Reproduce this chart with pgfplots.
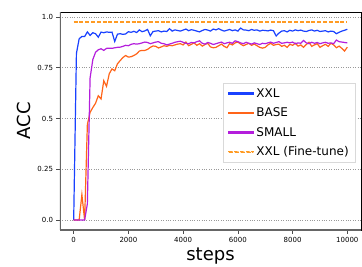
\documentclass[border=0pt]{standalone}
\usepackage{pgfplots}
\pgfplotsset{compat=1.18}
\usepackage{pgfplotstable}
\usepackage{fontspec}
\setmainfont{DejaVu Sans}
\definecolor{colxxl}{RGB}{25,65,255}
\definecolor{colbase}{RGB}{255,100,25}
\definecolor{colsmall}{RGB}{180,30,220}
\definecolor{colfinetune}{RGB}{255,155,35}

\pgfplotstableread{
x y
0 0
100 0.82
200 0.892
300 0.904
400 0.903
500 0.926
600 0.909
700 0.922
800 0.917
900 0.900
1000 0.925
1100 0.922
1200 0.926
1300 0.924
1400 0.925
1500 0.879
1600 0.915
1700 0.917
1800 0.914
1900 0.916
2000 0.927
2100 0.924
2200 0.929
2300 0.923
2400 0.936
2500 0.927
2600 0.931
2700 0.938
2800 0.907
2900 0.928
3000 0.930
3100 0.932
3200 0.926
3300 0.930
3400 0.928
3500 0.942
3600 0.930
3700 0.936
3800 0.933
3900 0.930
4000 0.935
4100 0.940
4200 0.932
4300 0.937
4400 0.934
4500 0.930
4600 0.926
4700 0.933
4800 0.938
4900 0.935
5000 0.930
5100 0.940
5200 0.936
5300 0.942
5400 0.935
5500 0.930
5600 0.934
5700 0.938
5800 0.932
5900 0.936
6000 0.930
6100 0.945
6200 0.936
6300 0.935
6400 0.932
6500 0.938
6600 0.934
6700 0.936
6800 0.930
6900 0.934
7000 0.933
7100 0.931
7200 0.935
7300 0.932
7400 0.906
7500 0.920
7600 0.930
7700 0.932
7800 0.926
7900 0.934
8000 0.930
8100 0.936
8200 0.932
8300 0.935
8400 0.930
8500 0.928
8600 0.933
8700 0.936
8800 0.930
8900 0.934
9000 0.928
9100 0.930
9200 0.932
9300 0.926
9400 0.930
9500 0.928
9600 0.917
9700 0.924
9800 0.930
9900 0.934
10000 0.939
}\tabxxl

\pgfplotstableread{
x y
0 0
100 0
200 0
300 0.125
400 0
500 0.47
600 0.53
700 0.554
800 0.575
900 0.612
1000 0.596
1100 0.686
1200 0.658
1300 0.720
1400 0.744
1500 0.735
1600 0.769
1700 0.785
1800 0.800
1900 0.810
2000 0.802
2100 0.804
2200 0.810
2300 0.818
2400 0.832
2500 0.835
2600 0.835
2700 0.840
2800 0.850
2900 0.857
3000 0.855
3100 0.847
3200 0.852
3300 0.858
3400 0.855
3500 0.860
3600 0.858
3700 0.862
3800 0.866
3900 0.868
4000 0.862
4100 0.876
4200 0.858
4300 0.865
4400 0.872
4500 0.860
4600 0.868
4700 0.856
4800 0.864
4900 0.870
5000 0.852
5100 0.848
5200 0.850
5300 0.858
5400 0.866
5500 0.855
5600 0.848
5700 0.868
5800 0.862
5900 0.872
6000 0.876
6100 0.866
6200 0.858
6300 0.864
6400 0.870
6500 0.860
6600 0.866
6700 0.858
6800 0.850
6900 0.846
7000 0.850
7100 0.862
7200 0.870
7300 0.860
7400 0.864
7500 0.866
7600 0.855
7700 0.860
7800 0.850
7900 0.865
8000 0.860
8100 0.870
8200 0.856
8300 0.862
8400 0.850
8500 0.864
8600 0.875
8700 0.855
8800 0.862
8900 0.868
9000 0.850
9100 0.858
9200 0.865
9300 0.855
9400 0.870
9500 0.862
9600 0.848
9700 0.856
9800 0.845
9900 0.832
10000 0.851
}\tabbase

\pgfplotstableread{
x y
0 0
100 0
200 0
300 0
400 0
500 0.08
600 0.70
700 0.79
800 0.826
900 0.838
1000 0.843
1100 0.835
1200 0.845
1300 0.846
1400 0.845
1500 0.848
1600 0.850
1700 0.851
1800 0.855
1900 0.860
2000 0.858
2100 0.865
2200 0.868
2300 0.866
2400 0.868
2500 0.872
2600 0.876
2700 0.874
2800 0.868
2900 0.872
3000 0.876
3100 0.878
3200 0.870
3300 0.868
3400 0.862
3500 0.866
3600 0.870
3700 0.875
3800 0.878
3900 0.880
4000 0.875
4100 0.870
4200 0.868
4300 0.874
4400 0.872
4500 0.878
4600 0.882
4700 0.870
4800 0.866
4900 0.874
5000 0.870
5100 0.864
5200 0.868
5300 0.872
5400 0.876
5500 0.868
5600 0.872
5700 0.875
5800 0.870
5900 0.882
6000 0.878
6100 0.872
6200 0.868
6300 0.875
6400 0.870
6500 0.866
6600 0.872
6700 0.868
6800 0.864
6900 0.870
7000 0.868
7100 0.872
7200 0.876
7300 0.870
7400 0.874
7500 0.878
7600 0.870
7700 0.872
7800 0.875
7900 0.872
8000 0.876
8100 0.868
8200 0.872
8300 0.870
8400 0.884
8500 0.872
8600 0.868
8700 0.875
8800 0.870
8900 0.874
9000 0.868
9100 0.872
9200 0.875
9300 0.870
9400 0.872
9500 0.868
9600 0.886
9700 0.878
9800 0.876
9900 0.874
10000 0.872
}\tabsmall

\pgfplotstableread{
x y
0 0.975
10000 0.975
}\tabft

\begin{document}
\begin{tikzpicture}
\begin{axis}[
  at={(0pt,0pt)}, anchor=south west,
  scale only axis,
  width=301pt, height=218pt,
  xmin=-500, xmax=10500,
  ymin=-0.049, ymax=1.024,
  scaled x ticks=false,
  xtick={0,2000,4000,6000,8000,10000},
  xticklabels={0,2000,4000,6000,8000,10000},
  ytick={0,0.25,0.5,0.75,1.0},
  yticklabels={0.0,0.25,0.5,0.75,1.0},
  tick label style={font=\fontsize{7}{8}\selectfont},
  tick align=outside,
  tick pos=left,
  major tick length=3.5pt,
  every tick/.style={black!70, line width=0.6pt},
  ymajorgrids,
  major grid style={dotted, gray!80, line width=0.7pt},
  axis line style={black, line width=0.8pt},
  every axis y label/.style={at={(axis description cs:-0.12,0.5)}, rotate=90, anchor=center, font=\fontsize{18}{20}\selectfont},
  every axis x label/.style={at={(axis description cs:0.5,0)}, anchor=base, yshift=-30pt, font=\fontsize{18}{20}\selectfont},
  xlabel={steps},
  ylabel={ACC},
  legend cell align=left,
  every axis legend/.append style={at={(axis description cs:0.983,0.673)}, anchor=north east,
    font=\fontsize{12}{14}\selectfont, draw=gray!30, fill=white,
    inner xsep=5pt, inner ysep=3pt, row sep=5pt,
    /tikz/every even column/.style={column sep=6pt}},
]
\addplot[draw=colxxl, line width=1.2pt,
  legend image code/.code={\fill[colxxl] (0pt,-0.6pt) rectangle (25pt,0.6pt);}]
  table[x=x,y=y] {\tabxxl};
\addlegendentry{XXL}
\addplot[draw=colbase, line width=1.2pt,
  legend image code/.code={\fill[colbase] (0pt,-0.6pt) rectangle (25pt,0.6pt);}]
  table[x=x,y=y] {\tabbase};
\addlegendentry{BASE}
\addplot[draw=colsmall, line width=1.2pt,
  legend image code/.code={\fill[colsmall] (0pt,-0.6pt) rectangle (25pt,0.6pt);}]
  table[x=x,y=y] {\tabsmall};
\addlegendentry{SMALL}
\addplot[draw=colfinetune, line width=1.2pt, dash pattern=on 4pt off 1.8pt,
  legend image code/.code={\fill[colfinetune] (0pt,-0.6pt) rectangle (4pt,0.6pt) (5.8pt,-0.6pt) rectangle (9.8pt,0.6pt) (11.6pt,-0.6pt) rectangle (15.6pt,0.6pt) (17.4pt,-0.6pt) rectangle (21.4pt,0.6pt) (23.2pt,-0.6pt) rectangle (25pt,0.6pt);}]
  table[x=x,y=y] {\tabft};
\addlegendentry{XXL (Fine-tune)}
\draw[gray!80!black, line width=1.4pt] (rel axis cs:0,0) -- (rel axis cs:0,1);
\draw[gray!80!black, line width=1.4pt] (rel axis cs:0,0) -- (rel axis cs:1,0);
\end{axis}
\pgfresetboundingbox
\path[use as bounding box] (-60pt,-36pt) rectangle (302pt,230pt);
\end{tikzpicture}
\end{document}
